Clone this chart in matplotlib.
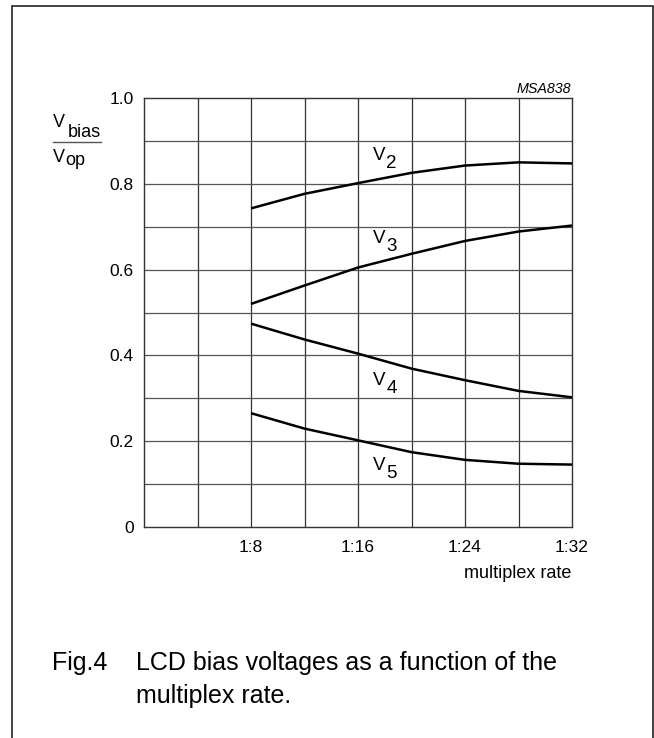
import matplotlib
matplotlib.use("Agg")
import matplotlib.pyplot as plt
from matplotlib.lines import Line2D

# ---- data ----
mux_rate = [8, 12, 16, 20, 24, 28, 32]
v2 = [0.743, 0.777, 0.802, 0.826, 0.843, 0.8505, 0.848]
v3 = [0.520, 0.563, 0.605, 0.637, 0.667, 0.689, 0.703]
v4 = [0.474, 0.437, 0.404, 0.369, 0.342, 0.317, 0.302]
v5 = [0.265, 0.229, 0.2016, 0.174, 0.156, 0.147, 0.145]
x_tick_pos = [8, 16, 24, 32]
x_tick_labels = ["1:8", "1:16", "1:24", "1:32"]
y_tick_pos = [0, 0.2, 0.4, 0.6, 0.8, 1.0]
y_tick_labels = ["0", "0.2", "0.4", "0.6", "0.8", "1.0"]
series_labels = ["2", "3", "4", "5"]
label_pos = [(17.13, 0.857), (17.13, 0.662), (17.13, 0.331), (17.13, 0.1325)]

plt.rcParams['font.family'] = ['Liberation Sans', 'DejaVu Sans']

W, H = 654, 738
fig = plt.figure(figsize=(W / 100, H / 100), dpi=100)

def fx(x):
    return x / W

def fy(y):
    return 1 - y / H

ax_l, ax_r, ax_t, ax_b = 144, 572, 98.3, 526.7
ax = fig.add_axes([fx(ax_l), fy(ax_b), (ax_r - ax_l) / W, (ax_b - ax_t) / H])

gc = '#333333'
ax.set_xlim(0, 32)
ax.set_ylim(0, 1.0)
for v in range(4, 32, 4):
    ax.axvline(v, color=gc, lw=0.9, zorder=1)
for i in range(1, 10):
    ax.axhline(i / 10, color='#555555', lw=0.9, zorder=1)
for s in ax.spines.values():
    s.set_color(gc)
    s.set_linewidth(1.0)

ax.set_xticks(x_tick_pos)
ax.set_xticklabels(x_tick_labels)
ax.set_yticks(y_tick_pos)
ax.set_yticklabels(y_tick_labels)
ax.tick_params(axis='x', length=0, pad=9.5, labelsize=12.5)
ax.tick_params(axis='y', length=0, pad=7.5, labelsize=12.5)

for ys in (v2, v3, v4, v5):
    ax.plot(mux_rate, ys, color='black', lw=1.8, zorder=3, solid_capstyle='butt')

for lab, (lx, ly) in zip(series_labels, label_pos):
    ax.text(lx, ly, "V", fontsize=13.5, ha='left', va='baseline', zorder=4)
    ax.text(lx + 1.0, ly - 0.019, lab, fontsize=13.5, ha='left', va='baseline', zorder=4)

# MSA838 tag
fig.text(fx(571), fy(93), "MSA838", fontsize=10.3, style='italic', ha='right', va='baseline')

# y label: V_bias / V_op
fig.text(fx(52.7), fy(127), "V", fontsize=13, ha='left', va='baseline')
fig.text(fx(68), fy(136.7), "bias", fontsize=13, ha='left', va='baseline')
fig.add_artist(Line2D([fx(52.7), fx(101)], [fy(142.3), fy(142.3)], color='#555555', lw=1.0))
fig.text(fx(52.7), fy(162), "V", fontsize=13, ha='left', va='baseline')
fig.text(fx(65), fy(165), "op", fontsize=13, ha='left', va='baseline')

# x axis title
fig.text(fx(571), fy(578), "multiplex rate", fontsize=13, ha='right', va='baseline')

# caption
fig.text(fx(51.7), fy(670), "Fig.4", fontsize=18, ha='left', va='baseline')
fig.text(fx(135.5), fy(670), "LCD bias voltages as a function of the", fontsize=18, ha='left', va='baseline')
fig.text(fx(135.5), fy(703), "multiplex rate.", fontsize=18, ha='left', va='baseline')

# outer frame (open at bottom)
fig.add_artist(Line2D([fx(12), fx(12), fx(652.5), fx(652.5)],
                      [fy(740), fy(5.7), fy(5.7), fy(740)],
                      color='#222222', lw=1.2, solid_joinstyle='miter'))

fig.savefig("out.png", dpi=100)
